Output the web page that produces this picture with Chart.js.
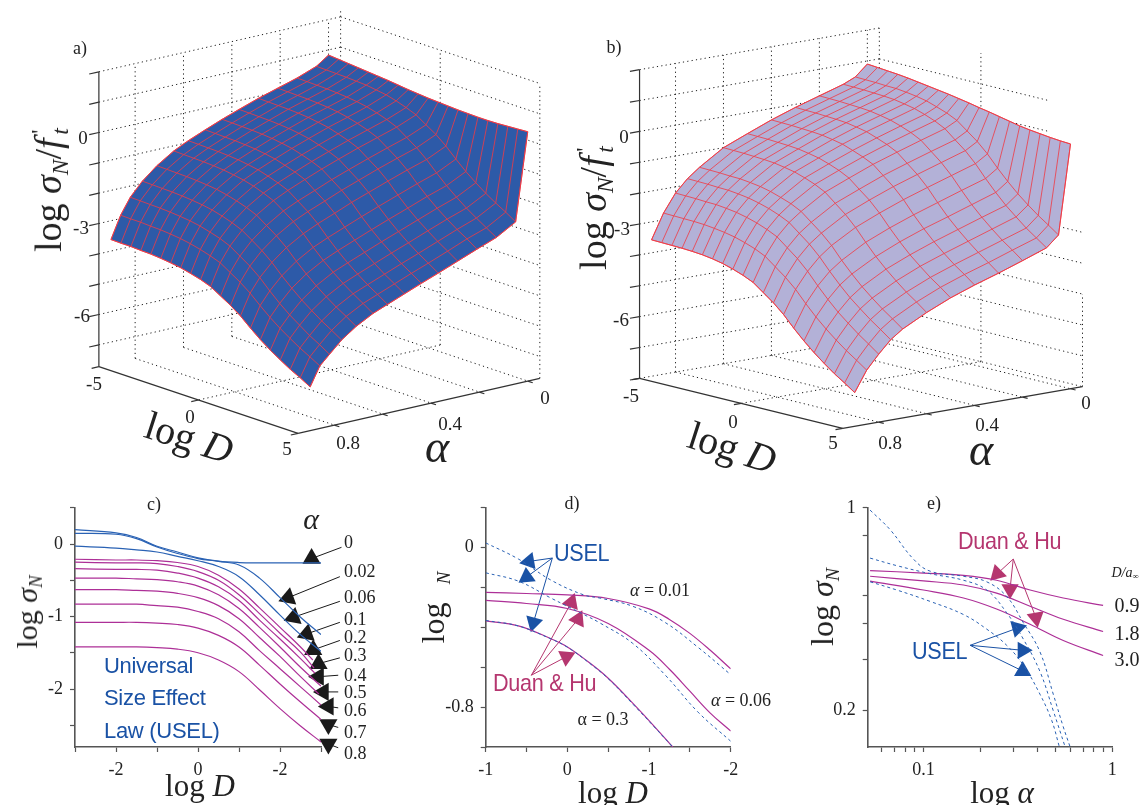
<!DOCTYPE html>
<html>
<head>
<meta charset="utf-8">
<title>Size effect surfaces</title>
<script src="https://cdn.jsdelivr.net/npm/chart.js@4/dist/chart.umd.min.js"></script>
<style>
  html, body { margin: 0; background: #fff; overflow: hidden; }
  #page { position: relative; width: 1144px; height: 805px; overflow: hidden; }
  canvas { position: absolute; }
  .t { position: absolute; white-space: nowrap; color: #222; line-height: 1; font-family: "Liberation Serif", serif; }
  .t sub { font-size: .62em; line-height: 0; vertical-align: -0.28em; }
  .t .pr { font-size: .6em; line-height: 0; vertical-align: .62em; margin-left: .2em; margin-right: -.22em; font-style: normal; }
  .s { font-family: "Liberation Sans", sans-serif; letter-spacing: -0.3px; }
</style>
</head>
<body>
<div id="page">
  <canvas id="panelA" width="570" height="480" style="left:0;top:0"></canvas>
  <canvas id="panelB" width="574" height="480" style="left:570px;top:0"></canvas>
  <canvas id="panelC" width="390" height="315" style="left:0;top:490px"></canvas>
  <canvas id="panelD" width="370" height="315" style="left:400px;top:490px"></canvas>
  <canvas id="panelE" width="364" height="315" style="left:780px;top:490px"></canvas>
</div>
<script>
// surface grids, panels a and b
const logDGrid = [-5,-4.5,-4,-3.5,-3,-2.5,-2,-1.5,-1,-0.5,0,0.5,1,1.5,2,2.5,3,3.5,4,4.5,5];
const alphaGridA = [0,0.05,0.13,0.21,0.29,0.37,0.44,0.51,0.58,0.64,0.71,0.77,0.82,0.86,0.9];
const alphaGridB = [0,0.05,0.1,0.2,0.3,0.4,0.5,0.6,0.7,0.75,0.8,0.85,0.9];

const surfaceA = [
  [.83,.80,.77,.74,.71,.68,.65,.61,.57,.54,.51,.49,.47,.45,.44,.43,.43,.44,.46,.48,.50],
  [.55,.54,.53,.52,.50,.48,.43,.38,.29,.18,.05,-.17,-.38,-.65,-.97,-1.27,-1.53,-1.77,-1.98,-2.17,-2.38],
  [.31,.30,.29,.28,.26,.23,.19,.13,.04,-.07,-.21,-.44,-.67,-.95,-1.28,-1.59,-1.86,-2.11,-2.33,-2.54,-2.75],
  [.12,.11,.10,.09,.07,.04,0,-.07,-.16,-.27,-.41,-.64,-.87,-1.15,-1.49,-1.80,-2.08,-2.33,-2.56,-2.76,-2.99],
  [-.07,-.08,-.09,-.10,-.12,-.15,-.20,-.26,-.36,-.47,-.61,-.85,-1.08,-1.37,-1.72,-2.04,-2.32,-2.57,-2.81,-3.02,-3.24],
  [-.29,-.30,-.31,-.32,-.34,-.37,-.42,-.48,-.58,-.69,-.83,-1.07,-1.31,-1.60,-1.95,-2.27,-2.56,-2.82,-3.06,-3.27,-3.49],
  [-.49,-.50,-.51,-.52,-.54,-.57,-.62,-.68,-.78,-.89,-1.03,-1.27,-1.51,-1.80,-2.16,-2.48,-2.77,-3.03,-3.27,-3.48,-3.70],
  [-.71,-.72,-.73,-.74,-.76,-.79,-.84,-.90,-1.0,-1.11,-1.25,-1.50,-1.74,-2.03,-2.38,-2.70,-2.99,-3.25,-3.49,-3.70,-3.92],
  [-.94,-.95,-.96,-.97,-.99,-1.02,-1.07,-1.13,-1.23,-1.34,-1.48,-1.72,-1.96,-2.25,-2.60,-2.92,-3.21,-3.47,-3.71,-3.92,-4.14],
  [-1.17,-1.18,-1.19,-1.20,-1.22,-1.25,-1.30,-1.36,-1.45,-1.57,-1.71,-1.94,-2.18,-2.47,-2.81,-3.13,-3.41,-3.67,-3.90,-4.11,-4.33],
  [-1.53,-1.54,-1.55,-1.56,-1.58,-1.61,-1.65,-1.72,-1.81,-1.92,-2.06,-2.29,-2.52,-2.80,-3.14,-3.45,-3.73,-3.98,-4.21,-4.41,-4.63],
  [-1.93,-1.94,-1.95,-1.96,-1.98,-2.01,-2.05,-2.11,-2.20,-2.31,-2.45,-2.67,-2.90,-3.18,-3.51,-3.81,-4.09,-4.33,-4.56,-4.76,-4.97],
  [-2.37,-2.38,-2.39,-2.40,-2.42,-2.45,-2.49,-2.55,-2.64,-2.74,-2.88,-3.10,-3.32,-3.59,-3.92,-4.22,-4.49,-4.72,-4.95,-5.14,-5.35],
  [-2.89,-2.90,-2.90,-2.92,-2.93,-2.96,-3.0,-3.06,-3.14,-3.24,-3.36,-3.57,-3.78,-4.03,-4.33,-4.61,-4.86,-5.08,-5.29,-5.47,-5.66],
  [-3.62,-3.63,-3.63,-3.65,-3.66,-3.69,-3.73,-3.78,-3.86,-3.95,-4.07,-4.27,-4.47,-4.71,-5.0,-5.27,-5.51,-5.72,-5.92,-6.09,-6.28]
];

const surfaceB = [
  [.90,.87,.84,.81,.77,.72,.67,.62,.57,.51,.45,.38,.32,.25,.18,.11,.06,.02,-.02,-.05,-.07],
  [.55,.54,.53,.51,.50,.46,.41,.34,.23,.11,-.05,-.31,-.57,-.89,-1.27,-1.62,-1.94,-2.22,-2.48,-2.71,-2.95],
  [.38,.37,.36,.34,.32,.29,.23,.16,.05,-.08,-.25,-.53,-.80,-1.14,-1.54,-1.91,-2.25,-2.54,-2.82,-3.06,-3.30],
  [.14,.13,.12,.10,.08,.05,-.01,-.08,-.19,-.32,-.49,-.77,-1.05,-1.39,-1.79,-2.17,-2.50,-2.80,-3.08,-3.32,-3.58],
  [-.10,-.11,-.12,-.14,-.16,-.19,-.25,-.32,-.44,-.57,-.74,-1.02,-1.30,-1.64,-2.05,-2.43,-2.76,-3.06,-3.34,-3.59,-3.85],
  [-.37,-.38,-.39,-.41,-.43,-.46,-.52,-.59,-.71,-.84,-1.0,-1.28,-1.56,-1.90,-2.31,-2.68,-3.02,-3.32,-3.60,-3.84,-4.10],
  [-.68,-.69,-.70,-.72,-.74,-.77,-.83,-.90,-1.01,-1.14,-1.31,-1.59,-1.86,-2.20,-2.60,-2.97,-3.31,-3.60,-3.88,-4.12,-4.38],
  [-1.0,-1.01,-1.02,-1.04,-1.06,-1.09,-1.15,-1.22,-1.33,-1.46,-1.63,-1.91,-2.19,-2.53,-2.93,-3.31,-3.64,-3.94,-4.22,-4.46,-4.72],
  [-1.5,-1.51,-1.52,-1.54,-1.55,-1.59,-1.64,-1.72,-1.83,-1.95,-2.12,-2.39,-2.66,-2.98,-3.38,-3.74,-4.07,-4.36,-4.63,-4.87,-5.12],
  [-1.8,-1.81,-1.82,-1.84,-1.85,-1.89,-1.94,-2.02,-2.12,-2.25,-2.41,-2.68,-2.95,-3.28,-3.67,-4.03,-4.36,-4.64,-4.91,-5.15,-5.40],
  [-2.2,-2.21,-2.22,-2.24,-2.25,-2.29,-2.34,-2.42,-2.52,-2.65,-2.81,-3.08,-3.35,-3.68,-4.07,-4.43,-4.76,-5.04,-5.31,-5.55,-5.80],
  [-2.78,-2.79,-2.80,-2.81,-2.83,-2.87,-2.92,-2.99,-3.09,-3.21,-3.37,-3.63,-3.89,-4.20,-4.58,-4.93,-5.24,-5.52,-5.78,-6.01,-6.25],
  [-3.58,-3.59,-3.60,-3.61,-3.63,-3.66,-3.71,-3.78,-3.88,-4.0,-4.15,-4.40,-4.65,-4.95,-5.31,-5.64,-5.94,-6.21,-6.46,-6.68,-6.91]
];

const zTicksA = [-7,-6,-5,-4,-3,-2,-1,0,1,2];
const zTicksB = [-8,-7,-6,-5,-4,-3,-2,-1,0,1,2];
const alphaTicks = [0,0.2,0.4,0.6,0.8];
const logDTicks = [-5,0,5];

// panel c
const cX = [-3,-2,-1.5,-1,-0.5,0,0.5,1,1.5,2,2.5,3];
const cBlue0 = [.2,.155,.09,-.03,-.11,-.19,-.235,-.255,-.26,-.26,-.26,-.26];
const cBlue002 = [.148,.135,.075,-.04,-.13,-.2,-.24,-.29,-.47,-.74,-1.01,-1.25];
const cBlue006 = [-.03,-.055,-.08,-.11,-.17,-.23,-.31,-.45,-.7,-.98,-1.25,-1.48];
const cRed01 = [-.21,-.22,-.22,-.23,-.255,-.31,-.43,-.62,-.88,-1.15,-1.42,-1.6];
const cRed02 = [-.25,-.26,-.26,-.27,-.31,-.38,-.5,-.7,-.96,-1.23,-1.49,-1.71];
const cRed03 = [-.34,-.35,-.35,-.36,-.40,-.47,-.59,-.78,-1.05,-1.31,-1.58,-1.78];
const cRed04 = [-.47,-.47,-.48,-.49,-.52,-.58,-.70,-.89,-1.15,-1.42,-1.70,-1.96];
const cRed05 = [-.63,-.63,-.64,-.65,-.68,-.74,-.85,-1.03,-1.29,-1.55,-1.83,-2.07];
const cRed06 = [-.83,-.83,-.83,-.85,-.87,-.93,-1.03,-1.21,-1.47,-1.72,-1.97,-2.22];
const cRed07 = [-1.08,-1.08,-1.08,-1.09,-1.11,-1.16,-1.26,-1.42,-1.67,-1.93,-2.18,-2.42];
const cRed08 = [-1.42,-1.42,-1.42,-1.43,-1.45,-1.50,-1.60,-1.76,-2.01,-2.27,-2.51,-2.73];
const cRedLastX = [2.8,2.83,2.85,3,2.95,3,3,3];
const cAlphaLabels = ['0','0.02','0.06','0.1','0.2','0.3','0.4','0.5','0.6','0.7','0.8'];
const cArrowFrom = [[3.5,-.045],[3.46,-.45],[3.46,-.79],[3.46,-1.08],[3.46,-1.33],[3.46,-1.57],[3.42,-1.81],[3.42,-2.04],[3.42,-2.26],[3.42,-2.53],[3.42,-2.81]];
const cArrowTo = [[2.77,-.2],[2.2,-.74],[2.33,-1.01],[2.65,-1.24],[2.81,-1.46],[2.94,-1.65],[2.94,-1.83],[3.06,-2.04],[3.18,-2.24],[3.18,-2.49],[3.18,-2.76]];
const cArrowTurn = [0,-110,-110,-110,0,0,-90,-90,-90,180,180];

// panel d
const dX = [-1,-0.5,0,0.5,1,1.25,1.5,1.75,2];
const dSolid001 = [-.224,-.23,-.237,-.255,-.307,-.36,-.43,-.515,-.608];
const dSolid006 = [-.264,-.28,-.305,-.38,-.515,-.61,-.72,-.83,-.92];
const dDashX = [-1,-0.6,-0.2,0.2,0.4,0.8,1.2,1.6,2];
const dDash001 = [.024,-.057,-.163,-.237,-.253,-.294,-.376,-.5,-.637];
const dDash006 = [-.126,-.168,-.253,-.335,-.378,-.48,-.64,-.825,-.971];
const d03X = [-1,-0.6,-0.2,0,0.25,0.5,0.8,1.05,1.29];
const dSolid03 = [-.367,-.392,-.457,-.498,-.571,-.655,-.78,-.89,-1.0];
const dDash03 = [-.365,-.393,-.458,-.499,-.573,-.657,-.784,-.893,-1.0];
const dBlueFrom = [-.184,-.052];
const dBlueTo = [[-.469,-.069],[-.498,-.147],[-.416,-.376]];
const dBlueTurn = [-100,-125,195];
const dRedFrom = [-.441,-.64];
const dRedTo = [[.049,-.274],[.131,-.359],[-.012,-.547]];
const dRedTurn = [20,25,65];

// panel e
const eX = [.0522,.1,.163,.244,.367,.55,.894];
const eSolid09 = [.608,.596,.585,.563,.521,.489,.461];
const eSolid18 = [.581,.560,.542,.508,.458,.413,.375];
const eSolid30 = [.559,.521,.489,.448,.397,.349,.310];
const eDash09X = [.0522,.0666,.0885,.1085,.1628,.2163,.276,.338,.414,.487,.55,.597];
const eDash09 = [.982,.841,.666,.605,.581,.556,.495,.402,.319,.228,.176,.1505];
const eDash18X = [.0522,.0723,.1085,.1628,.2163,.276,.338,.414,.487,.562];
const eDash18 = [.671,.632,.593,.563,.521,.435,.353,.273,.2,.1505];
const eDash30X = [.0522,.0723,.1085,.1628,.2163,.276,.338,.414,.478,.524];
const eDash30 = [.556,.521,.476,.429,.382,.336,.287,.228,.185,.1505];
const eRedFrom = [.299,.666];
const eRedTo = [[.2461,.593],[.2875,.524],[.3945,.418]];
const eRedTurn = [-135,180,170];
const eBlueFrom = [.1766,.336];
const eBlueTo = [[.3143,.385],[.3354,.323],[.3354,.274]];
const eBlueTurn = [75,90,0];

const BLUE = '#1a52a5', RED = '#b5366f', CURVE_BLUE = '#2a62b4', CURVE_RED = '#ad2f97', INK = '#222';

function seg(pts, color, width, dash) {
  return { data: pts, showLine: true, pointRadius: 0, borderColor: color, borderWidth: width,
           borderDash: dash || [], fill: false, clip: false };
}

// 3D panels: plain projection of (logD, alpha, z) on the panel's own scale
function surfacePanel(id, view, alphaGrid, surface, zTicks, fillColor, meshColor, rightWall) {
  const p = (D, a, z) => ({
    x: view.bx + (D + 5) / 10 * view.dx - (a + 0.05) * view.ax,
    y: view.by + (D + 5) / 10 * view.dy + (a + 0.05) * view.ay - (z - view.zMin) * view.zs
  });
  const ds = [];
  const dot = (a, b) => ds.push(seg([a, b], '#1c1c1c', 1, [1.2, 3.2]));

  zTicks.forEach(z => {
    dot(p(-5, 0.95, z), p(-5, -0.05, z));
    dot(p(-5, -0.05, z), p(rightWall(z), -0.05, z));
  });
  alphaTicks.forEach(a => {
    dot(p(-5, a, view.zMin), p(-5, a, 2));
    dot(p(-5, a, view.zMin), p(5, a, view.zMin));
  });
  dot(p(-5, -0.05, view.zMin), p(-5, -0.05, view.zBackTop));
  dot(p(0, -0.05, view.zMin), p(0, -0.05, 2));
  dot(p(5, -0.05, view.zMin), p(5, -0.05, view.zRightTop));
  dot(p(0, -0.05, view.zMin), p(0, 0.95, view.zMin));

  const solid = (a, b) => ds.push(seg([a, b], '#333', 1.2));
  solid(p(-5, 0.95, view.zMin), p(-5, 0.95, 2));
  solid(p(-5, 0.95, view.zMin), p(5, 0.95, view.zMin));
  solid(p(5, 0.95, view.zMin), p(5, -0.05, view.zMin));
  zTicks.forEach(z => solid(p(-5, 0.95, z), p(-5, 0.99, z)));
  logDTicks.forEach(D => solid(p(D, 0.95, view.zMin), p(D, 0.98, view.zMin)));
  alphaTicks.forEach(a => solid(p(5, a, view.zMin), p(5.25, a, view.zMin)));

  const last = alphaGrid.length - 1, lastD = logDGrid.length - 1;
  const outline = [];
  logDGrid.forEach((D, j) => outline.push(p(D, alphaGrid[0], surface[0][j])));
  alphaGrid.forEach((a, i) => outline.push(p(logDGrid[lastD], a, surface[i][lastD])));
  for (let j = lastD; j >= 0; j--) outline.push(p(logDGrid[j], alphaGrid[last], surface[last][j]));
  for (let i = last; i >= 0; i--) outline.push(p(logDGrid[0], alphaGrid[i], surface[i][0]));
  ds.push({ data: outline, showLine: true, pointRadius: 0, borderWidth: 0, borderColor: fillColor,
            backgroundColor: fillColor, fill: 'shape', clip: false });

  alphaGrid.forEach((a, i) => ds.push(seg(logDGrid.map((D, j) => p(D, a, surface[i][j])), meshColor, 0.9)));
  logDGrid.forEach((D, j) => ds.push(seg(alphaGrid.map((a, i) => p(D, a, surface[i][j])), meshColor, 0.9)));
  ds.push(seg(outline, meshColor, 1));

  new Chart(document.getElementById(id), {
    type: 'scatter',
    data: { datasets: ds.reverse() },
    options: {
      responsive: false, animation: false, events: [],
      plugins: { legend: { display: false }, tooltip: { enabled: false } },
      layout: { padding: 0 },
      scales: {
        x: { type: 'linear', display: false, min: 0, max: 1568 },
        y: { type: 'linear', display: false, min: 0, max: 1440, reverse: true }
      }
    }
  });
}

surfacePanel('panelA', { bx: 937, by: 935, dx: 548, dy: 200, ax: 665, ay: 165, zMin: -7.72, zs: 91, zRightTop: 2, zBackTop: 2.28 },
  alphaGridA, surfaceA, zTicksA, '#2d5aa8', 'rgba(240,58,68,.9)', () => 5);
surfacePanel('panelB', { bx: 845, by: 1010, dx: 555, dy: 150, ax: 655, ay: 125, zMin: -8, zs: 92.6, zRightTop: -5, zBackTop: 2 },
  alphaGridB, surfaceB, zTicksB, '#b3b1d7', 'rgba(240,58,68,.9)', z => z === 2 ? -5 : z > -3 ? 3.3 : 5);

// 2D panels
function curve(xs, ys, color, dash) {
  return { data: xs.map((x, i) => ({ x, y: ys[i] })), showLine: true, pointRadius: 0, borderColor: color,
           borderWidth: dash ? 1 : 1.2, borderDash: dash ? [3, 3] : [], tension: 0.4, fill: false };
}
function arrow(from, to, color, turn, size) {
  return { data: [{ x: from[0], y: from[1] }, { x: to[0], y: to[1] }], showLine: true, borderColor: color, borderWidth: 1,
           pointStyle: 'triangle', pointRadius: [0, size], pointBackgroundColor: color, pointBorderColor: color,
           pointBorderWidth: 0, rotation: turn, fill: false, clip: false };
}
function axisChart(id, ds, cfg) {
  const axis = (type, min, max, ticks, labels, fit) => ({
    type, min, max,
    afterBuildTicks: s => { s.ticks = ticks.map(v => ({ value: v })); },
    afterFit: fit,
    border: { display: true, color: '#555', width: 1.6 },
    grid: { drawOnChartArea: false, drawTicks: true, tickLength: 5, tickColor: '#555', tickWidth: 1.2 },
    ticks: { autoSkip: false, maxRotation: 0, minRotation: 0, color: INK, padding: 7,
             font: { family: 'Liberation Serif', size: 18 }, callback: v => labels[v] ?? '' }
  });
  new Chart(document.getElementById(id), {
    type: 'scatter',
    data: { datasets: ds },
    options: {
      responsive: false, animation: false, events: [],
      plugins: { legend: { display: false }, tooltip: { enabled: false } },
      layout: { padding: { top: 13, right: cfg.right, left: 0, bottom: 0 } },
      scales: {
        x: axis(cfg.xType, cfg.xMin, cfg.xMax, cfg.xTicks, cfg.xLabels, s => { s.height = 58; }),
        y: axis(cfg.yType, cfg.yMin, cfg.yMax, cfg.yTicks, cfg.yLabels, s => { s.width = cfg.left; })
      }
    }
  });
}

const cSets = [
  curve(cX, cBlue0, CURVE_BLUE), curve(cX, cBlue002, CURVE_BLUE), curve(cX, cBlue006, CURVE_BLUE)
];
[cRed01, cRed02, cRed03, cRed04, cRed05, cRed06, cRed07, cRed08].forEach((ys, k) => {
  const xs = cX.slice(); xs[xs.length - 1] = cRedLastX[k];
  cSets.push(curve(xs, ys, CURVE_RED));
});
cArrowFrom.forEach((f, i) => cSets.push(arrow(f, cArrowTo[i], '#1a1a1a', cArrowTurn[i], 10.5)));
axisChart('panelC', cSets, {
  xType: 'linear', xMin: -3, xMax: 3, xTicks: [-3,-2,-1,0,1,2,3], xLabels: { '-2': '-2', 0: '0', 2: '-2' },
  yType: 'linear', yMin: -2.8, yMax: 0.5, yTicks: [-2.5,-2,-1.5,-1,-0.5,0,0.5], yLabels: { 0: '0', '-1': '-1', '-2': '-2' },
  left: 75, right: 69
});

const dSets = [
  curve(dDashX, dDash001, CURVE_BLUE, true), curve(dDashX, dDash006, CURVE_BLUE, true), curve(d03X, dDash03, CURVE_BLUE, true),
  curve(dX, dSolid001, CURVE_RED), curve(dX, dSolid006, CURVE_RED), curve(d03X, dSolid03, CURVE_RED)
];
dBlueTo.forEach((t, i) => dSets.push(arrow(dBlueFrom, t, BLUE, dBlueTurn[i], 10)));
dRedTo.forEach((t, i) => dSets.push(arrow(dRedFrom, t, RED, dRedTurn[i], 10)));
axisChart('panelD', dSets, {
  xType: 'linear', xMin: -1, xMax: 2, xTicks: [-1,-0.5,0,0.5,1,1.5,2], xLabels: { '-1': '-1', 0: '0', 1: '-1', 2: '-2' },
  yType: 'linear', yMin: -1, yMax: 0.2, yTicks: [-1,-0.8,-0.6,-0.4,-0.2,0,0.2], yLabels: { 0: '0', '-0.8': '-0.8' },
  left: 85.7, right: 39.3
});

const eSets = [
  curve(eDash09X, eDash09, CURVE_BLUE, true), curve(eDash18X, eDash18, CURVE_BLUE, true), curve(eDash30X, eDash30, CURVE_BLUE, true),
  curve(eX, eSolid09, CURVE_RED), curve(eX, eSolid18, CURVE_RED), curve(eX, eSolid30, CURVE_RED)
];
eRedTo.forEach((t, i) => eSets.push(arrow(eRedFrom, t, RED, eRedTurn[i], 10)));
eBlueTo.forEach((t, i) => eSets.push(arrow(eBlueFrom, t, BLUE, eBlueTurn[i], 10)));
axisChart('panelE', eSets, {
  xType: 'logarithmic', xMin: 0.0507, xMax: 1, xTicks: [.06,.07,.08,.09,.1,.2,.3,.4,.5,.6,.7,.8,.9,1], xLabels: { 0.1: '0.1', 1: '1' },
  yType: 'logarithmic', yMin: 0.15, yMax: 1, yTicks: [.2,.3,.4,.5,.8,1], yLabels: { 0.2: '0.2', 1: '1' },
  left: 87.7, right: 31.7
});

// text that the axes cannot set: mixed italics, subscripts, rotated 3D axis names
const LOG_SIGMA_FT = 'log <i>σ<sub>N</sub></i>/<i>f</i><span class="pr">\'</span><sub><i>t</i></sub>';
const LOG_SIGMA = 'log <i>σ<sub>N</sub></i>';
const LOG_D = 'log <i>D</i>';
const texts = [
  ['a)', 80, 48, 18], ['0', 83, 137, 19], ['-3', 81, 227, 19], ['-6', 82, 315, 19],
  ['-5', 94, 383, 19], ['0', 190, 416, 19], ['5', 287, 448, 19], ['0.8', 348, 442, 19], ['0.4', 450, 423, 19], ['0', 545, 397, 19],
  [LOG_SIGMA_FT, 48, 190, 38, -90], [LOG_D, 189, 438, 40, 18], ['<i>α</i>', 437, 447, 46],

  ['b)', 614, 47, 18], ['0', 624, 136, 19], ['-3', 622, 228, 19], ['-6', 621, 319, 19],
  ['-5', 631, 395, 19], ['0', 733, 421, 19], ['5', 833, 442, 19], ['0.8', 890, 442, 19], ['0.4', 987, 424, 19], ['0', 1086, 402, 19],
  [LOG_SIGMA_FT, 593, 208, 38, -90], [LOG_D, 732, 448, 40, 18], ['<i>α</i>', 981, 450, 46],

  ['c)', 154, 504, 18], ['<i>α</i>', 311, 519, 30],
  [LOG_SIGMA, 27, 612, 30, -90], [LOG_D, 200, 785, 31],

  ['d)', 572, 503, 18], ['log', 433, 623, 32, -90], ['<i>N</i>', 443, 578, 19, -90], [LOG_D, 613, 792, 31],
  ['<i>α</i> = 0.01', 660, 590, 18], ['<i>α</i> = 0.06', 741, 700, 18], ['α = 0.3', 603, 719, 18],

  ['e)', 934, 503, 18], [LOG_SIGMA, 822, 607, 32, -90], ['log <i>α</i>', 1002, 792, 31],
  ['<i>D/a</i><sub>∞</sub>', 1125, 573, 14], ['0.9', 1127, 605, 20], ['1.8', 1127, 633, 20], ['3.0', 1127, 659, 20]
];
const sansTexts = [
  ['Universal', 104, 666, 22, BLUE, 1], ['Size Effect', 104, 698, 22, BLUE, 1], ['Law (USEL)', 104, 731, 22, BLUE, 1],
  ['USEL', 554, 553, 24, BLUE, .9], ['Duan &amp; Hu', 493, 683, 24, RED, .9],
  ['Duan &amp; Hu', 958, 541, 24, RED, .9], ['USEL', 912, 651, 24, BLUE, .9]
];
const page = document.getElementById('page');
texts.forEach(([html, x, y, size, rot]) => {
  const el = document.createElement('div');
  el.className = 't';
  el.innerHTML = html;
  el.style.cssText = `left:${x}px;top:${y}px;font-size:${size}px;transform:translate(-50%,-50%) rotate(${rot || 0}deg)`;
  page.appendChild(el);
});
sansTexts.forEach(([html, x, y, size, color, sx]) => {
  const el = document.createElement('div');
  el.className = 't s';
  el.innerHTML = html;
  el.style.cssText = `left:${x}px;top:${y}px;font-size:${size}px;color:${color};transform-origin:left center;transform:translateY(-50%) scaleX(${sx})`;
  page.appendChild(el);
});
const cAlphaLabelY = [542,571,597,619,637,655,675,692,710,732,753];
cAlphaLabels.forEach((txt, i) => {
  const el = document.createElement('div');
  el.className = 't';
  el.textContent = txt;
  el.style.cssText = `left:344px;top:${cAlphaLabelY[i]}px;font-size:18px;transform:translateY(-50%)`;
  page.appendChild(el);
});
</script>
</body>
</html>
